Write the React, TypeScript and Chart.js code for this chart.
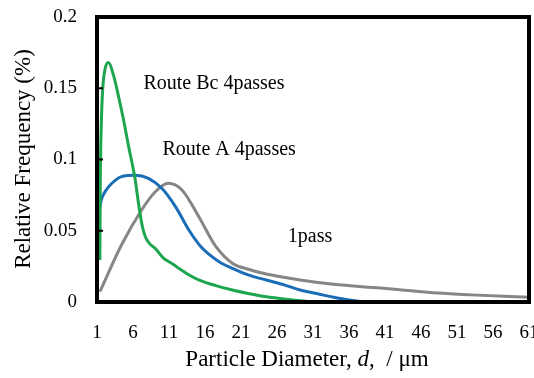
import React, { useEffect, useRef } from "react";
import { Chart, registerables } from "chart.js";

Chart.register(...registerables);

// ---- tick labels ----
const xTickValues = [1, 6, 11, 16, 21, 26, 31, 36, 41, 46, 51, 56, 61];
const yTickValues = [0, 0.05, 0.1, 0.15, 0.2];
const yTickLabels = ["0", "0.05", "0.1", "0.15", "0.2"];

// ---- series: Route Bc 4passes ----
const routeBcDiameter = [1.4, 1.45, 1.6, 1.8, 2.1, 2.6, 3.3, 4.0, 4.6, 5.4, 6.3, 6.8, 7.3, 7.7, 8.3, 9.1, 10.2, 11.4, 13.8, 15.2, 17.5, 19.8, 22, 24.5, 27, 29, 31];
const routeBcFrequency = [0.0295, 0.08, 0.125, 0.150, 0.163, 0.168, 0.159, 0.144, 0.13, 0.109, 0.086, 0.068, 0.053, 0.046, 0.041, 0.0375, 0.031, 0.027, 0.019, 0.0154, 0.0115, 0.0084, 0.006, 0.0037, 0.0022, 0.001, 0.0];

// ---- series: Route A 4passes ----
const routeADiameter = [1, 1.3, 1.6, 2.2, 3, 4.4, 6.3, 8.15, 10, 11.9, 13.76, 15.4, 17.96, 19.8, 22, 24.5, 27, 29.2, 31.5, 33.85, 36, 38];
const routeAFrequency = [0.049, 0.063, 0.0716, 0.078, 0.083, 0.088, 0.089, 0.0868, 0.0798, 0.0669, 0.0505, 0.039, 0.0283, 0.0236, 0.019, 0.0154, 0.012, 0.0084, 0.006, 0.0033, 0.0015, 0.0];

// ---- series: 1pass ----
const onePassDiameter = [1.4, 4.4, 7.2, 9.1, 10.9, 12.8, 15.2, 17.5, 19.8, 22, 24.5, 29.2, 33.85, 40.4, 43.7, 48.3, 53, 61];
const onePassFrequency = [0.0072, 0.040, 0.0646, 0.0774, 0.0833, 0.0786, 0.0593, 0.039, 0.0272, 0.023, 0.0196, 0.0154, 0.0124, 0.0098, 0.0083, 0.0063, 0.005, 0.0033];

const seriesNames = ["Route Bc 4passes", "Route A 4passes", "1pass"];
const seriesColors = ["#1ea64f", "#1b6db6", "#868686"];

// ---- in-plot labels (data coordinates) ----
const labelTexts = ["Route Bc 4passes", "Route A 4passes", "1pass"];
const labelX = [7.45, 10.1, 27.5];
const labelY = [0.153, 0.1067, 0.0456];

const FONT = "'Liberation Serif', 'Times New Roman', serif";

const decorPlugin = {
  id: "decor",
  afterDatasetsDraw(chart: any) {
    const { ctx, chartArea: a, scales } = chart;
    ctx.save();
    ctx.strokeStyle = "#000";
    ctx.lineWidth = 2;
    yTickValues.forEach((v) => {
      const y = scales.y.getPixelForValue(v);
      ctx.beginPath();
      ctx.moveTo(a.left, y);
      ctx.lineTo(a.left + 6, y);
      ctx.stroke();
    });
    ctx.lineWidth = 4;
    ctx.strokeRect(a.left, a.top, a.right - a.left, a.bottom - a.top);

    ctx.fillStyle = "#000";
    ctx.font = `20px ${FONT}`;
    ctx.textBaseline = "middle";
    ctx.textAlign = "left";
    labelTexts.forEach((t, i) => {
      ctx.fillText(t, scales.x.getPixelForValue(labelX[i]), scales.y.getPixelForValue(labelY[i]));
    });

    // x-axis title with italic d
    const parts = [
      { t: "Particle Diameter, ", f: `23px ${FONT}` },
      { t: "d", f: `italic 23px ${FONT}` },
      { t: ",  / \u03bcm", f: `23px ${FONT}` },
    ];
    let total = 0;
    parts.forEach((p) => {
      ctx.font = p.f;
      total += ctx.measureText(p.t).width;
    });
    let x = 307 - total / 2;
    parts.forEach((p) => {
      ctx.font = p.f;
      ctx.fillText(p.t, x, 360);
      x += ctx.measureText(p.t).width;
    });

    // y-axis title
    ctx.translate(24, 159);
    ctx.rotate(-Math.PI / 2);
    ctx.textAlign = "center";
    ctx.font = `23px ${FONT}`;
    ctx.fillText("Relative Frequency (%)", 0, 0);
    ctx.restore();
  },
};

export default function App() {
  const ref = useRef<HTMLCanvasElement | null>(null);
  useEffect(() => {
    if (!ref.current) return;
    const mk = (d: number[], f: number[]) => d.map((v, i) => ({ x: v, y: f[i] }));
    const chart = new Chart(ref.current, {
      type: "line",
      data: {
        datasets: [
          { label: seriesNames[0], data: mk(routeBcDiameter, routeBcFrequency), borderColor: seriesColors[0] },
          { label: seriesNames[1], data: mk(routeADiameter, routeAFrequency), borderColor: seriesColors[1] },
          { label: seriesNames[2], data: mk(onePassDiameter, onePassFrequency), borderColor: seriesColors[2] },
        ].map((d) => ({ ...d, borderWidth: 3, pointRadius: 0, fill: false, cubicInterpolationMode: "monotone" as const })),
      },
      options: {
        animation: false,
        responsive: false,
        layout: { padding: { top: 17, right: 5, left: 0, bottom: 0 } },
        plugins: { legend: { display: false }, tooltip: { enabled: false } },
        scales: {
          x: {
            type: "linear",
            min: 1,
            max: 61,
            grid: { display: false, drawTicks: false },
            border: { display: false },
            afterBuildTicks: (s: any) => {
              s.ticks = xTickValues.map((v) => ({ value: v }));
            },
            afterFit: (s: any) => {
              s.height = 76;
              s.paddingLeft = 0;
              s.paddingRight = 0;
            },
            ticks: {
              color: "#000",
              font: { family: FONT, size: 19 },
              padding: 20,
              maxRotation: 0,
              autoSkip: false,
              callback: (v: any) => String(v),
            },
          },
          y: {
            min: 0,
            max: 0.2,
            grid: { display: false, drawTicks: false },
            border: { display: false },
            afterBuildTicks: (s: any) => {
              s.ticks = yTickValues.map((v) => ({ value: v }));
            },
            afterFit: (s: any) => {
              s.width = 97;
              s.paddingTop = 0;
              s.paddingBottom = 0;
            },
            ticks: {
              color: "#000",
              font: { family: FONT, size: 19 },
              padding: 20,
              autoSkip: false,
              callback: (_v: any, i: number) => yTickLabels[i],
            },
          },
        },
      },
      plugins: [decorPlugin],
    });
    return () => chart.destroy();
  }, []);
  return (
    <div style={{ position: "absolute", left: 0, top: 0, width: 534, height: 378, background: "#fff" }}>
      <canvas ref={ref} width={534} height={378} style={{ display: "block" }} />
    </div>
  );
}
